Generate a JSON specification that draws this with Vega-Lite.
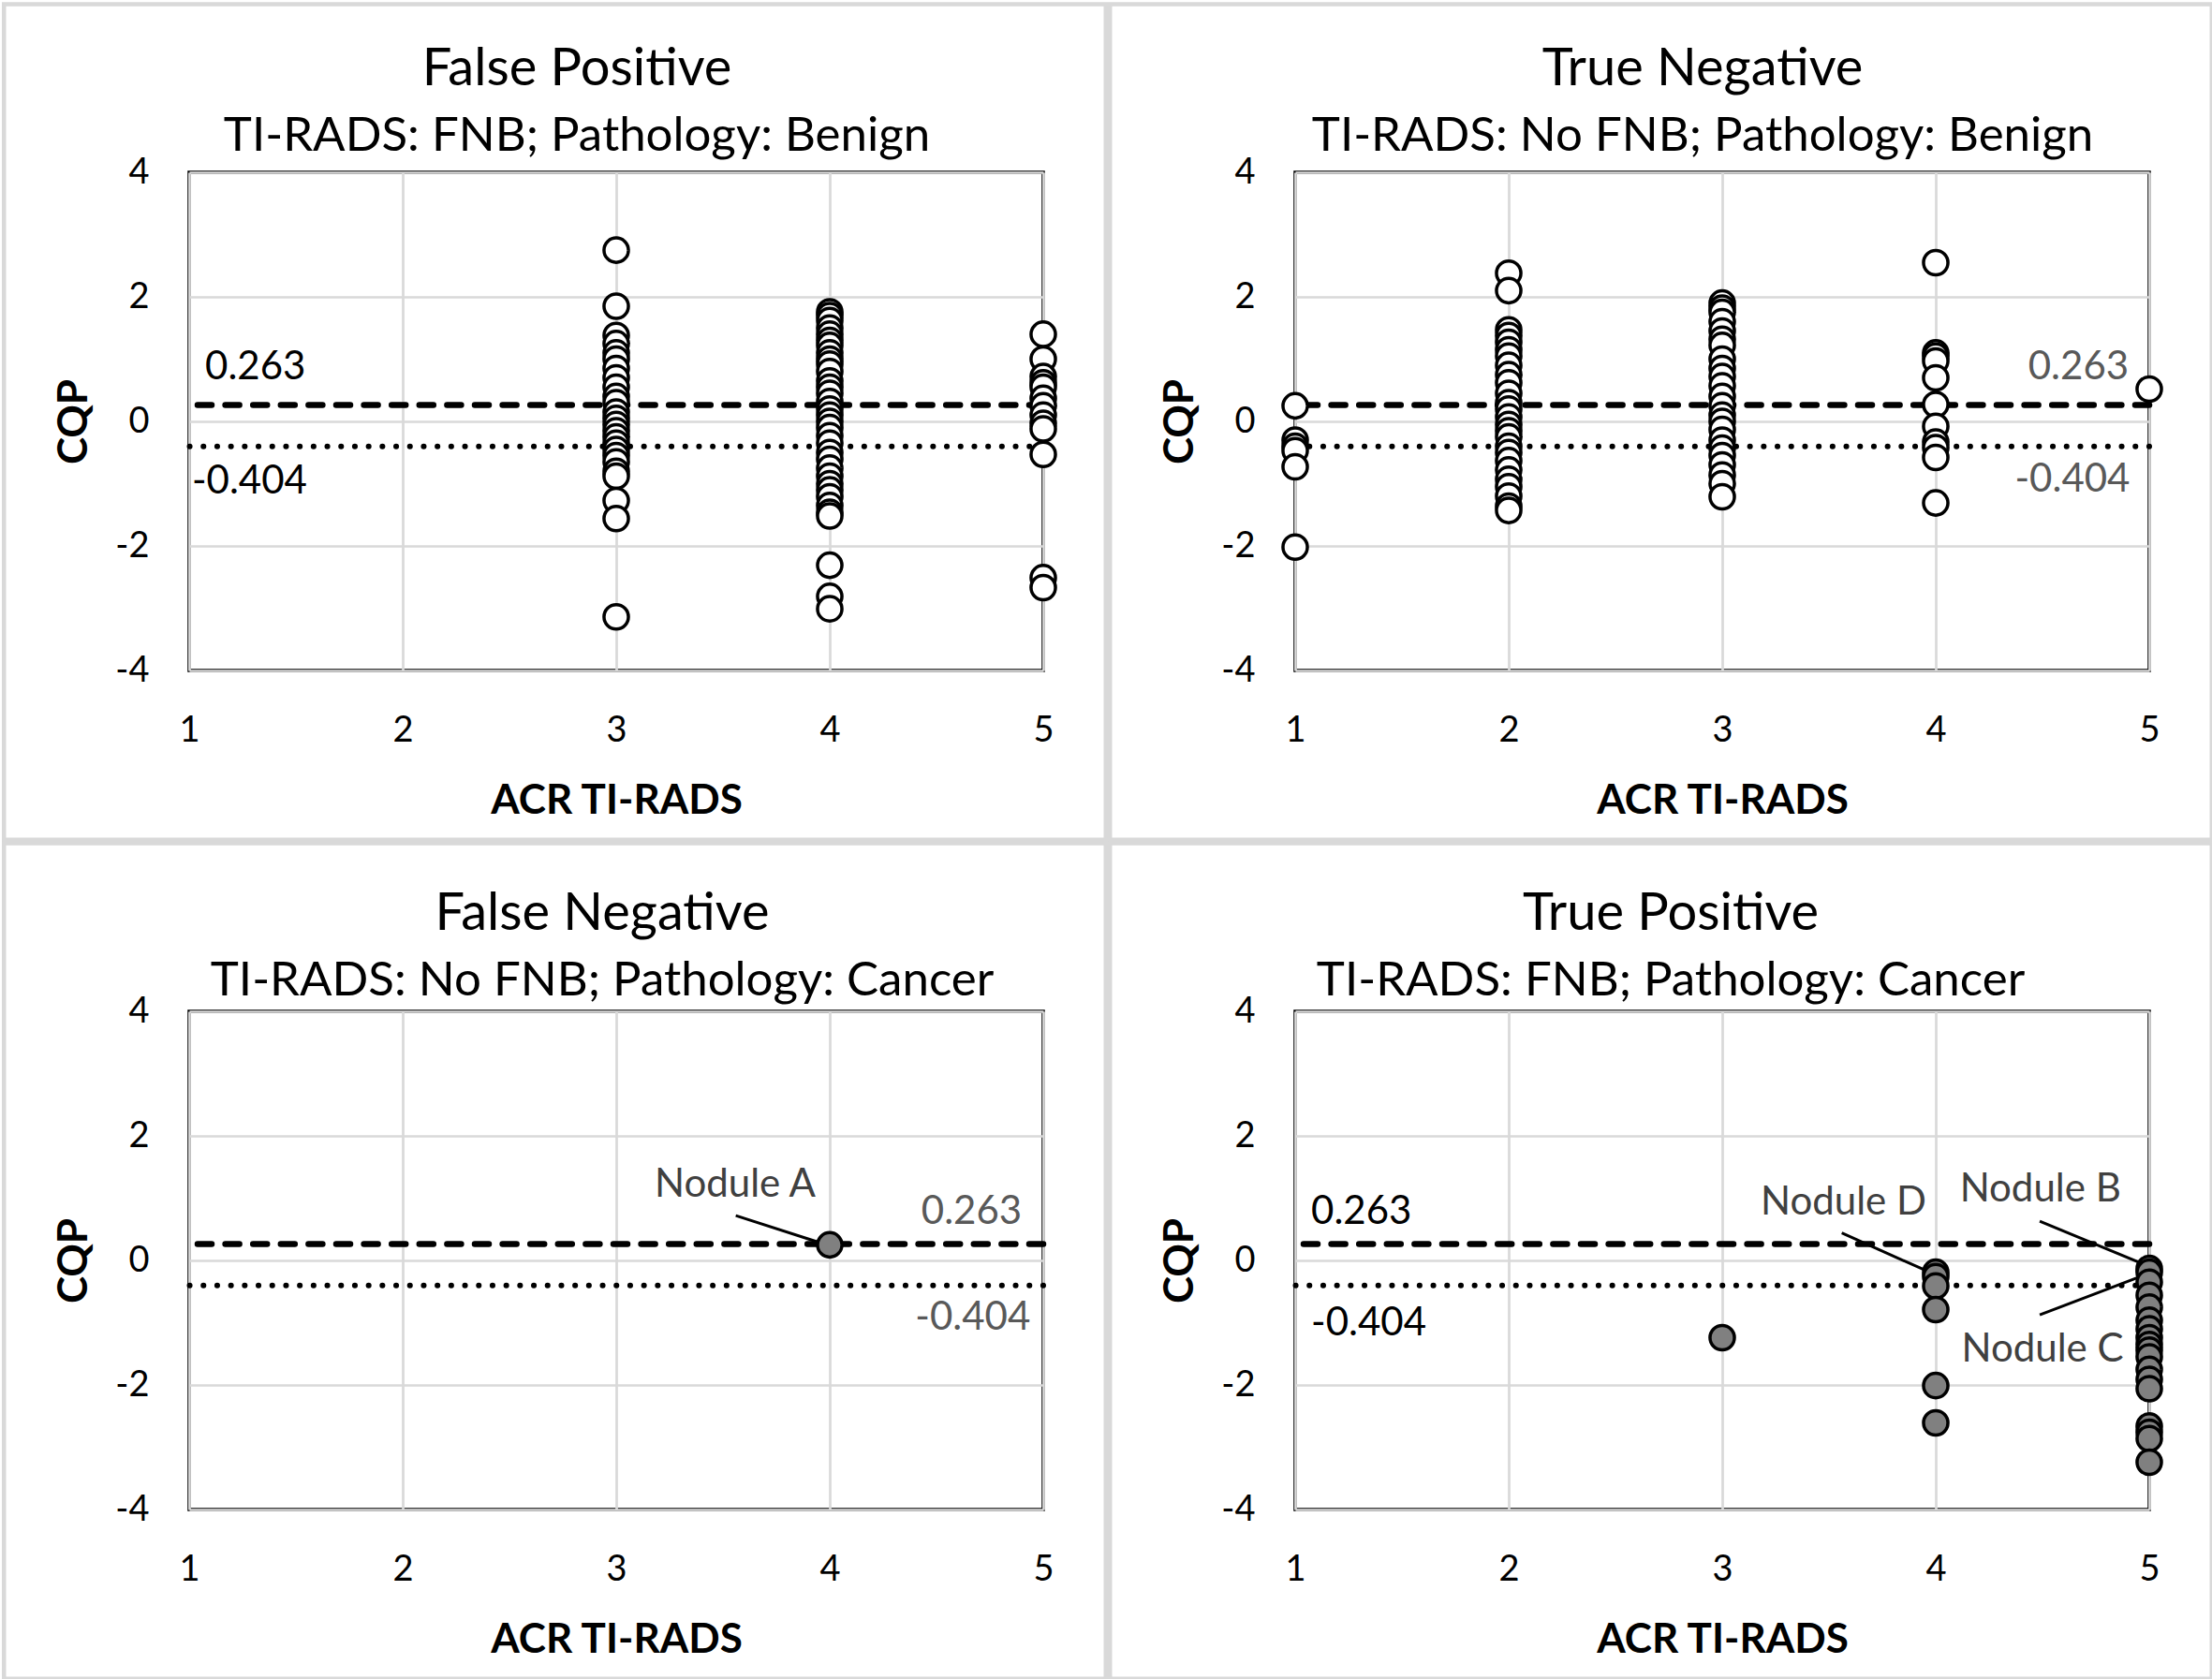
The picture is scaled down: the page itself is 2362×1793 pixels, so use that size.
{
  "$schema": "https://vega.github.io/schema/vega-lite/v6.json",
  "padding": 0,
  "background": "white",
  "datasets": {
    "points": [
      {"panel":"FP","tirads":3,"cqp":2.75},{"panel":"FP","tirads":3,"cqp":1.85},{"panel":"FP","tirads":3,"cqp":1.38},{"panel":"FP","tirads":3,"cqp":1.25},{"panel":"FP","tirads":3,"cqp":1.1},
      {"panel":"FP","tirads":3,"cqp":1.0},{"panel":"FP","tirads":3,"cqp":0.85},{"panel":"FP","tirads":3,"cqp":0.7},{"panel":"FP","tirads":3,"cqp":0.55},{"panel":"FP","tirads":3,"cqp":0.4},
      {"panel":"FP","tirads":3,"cqp":0.3},{"panel":"FP","tirads":3,"cqp":0.15},{"panel":"FP","tirads":3,"cqp":0.05},{"panel":"FP","tirads":3,"cqp":-0.05},{"panel":"FP","tirads":3,"cqp":-0.15},
      {"panel":"FP","tirads":3,"cqp":-0.25},{"panel":"FP","tirads":3,"cqp":-0.35},{"panel":"FP","tirads":3,"cqp":-0.45},{"panel":"FP","tirads":3,"cqp":-0.55},{"panel":"FP","tirads":3,"cqp":-0.65},
      {"panel":"FP","tirads":3,"cqp":-0.8},{"panel":"FP","tirads":3,"cqp":-0.88},{"panel":"FP","tirads":3,"cqp":-1.27},{"panel":"FP","tirads":3,"cqp":-1.56},{"panel":"FP","tirads":3,"cqp":-3.14},
      {"panel":"FP","tirads":4,"cqp":1.76},{"panel":"FP","tirads":4,"cqp":1.7},{"panel":"FP","tirads":4,"cqp":1.62},{"panel":"FP","tirads":4,"cqp":1.5},{"panel":"FP","tirads":4,"cqp":1.4},
      {"panel":"FP","tirads":4,"cqp":1.3},{"panel":"FP","tirads":4,"cqp":1.22},{"panel":"FP","tirads":4,"cqp":1.1},{"panel":"FP","tirads":4,"cqp":1.0},{"panel":"FP","tirads":4,"cqp":0.92},
      {"panel":"FP","tirads":4,"cqp":0.8},{"panel":"FP","tirads":4,"cqp":0.65},{"panel":"FP","tirads":4,"cqp":0.55},{"panel":"FP","tirads":4,"cqp":0.45},{"panel":"FP","tirads":4,"cqp":0.32},
      {"panel":"FP","tirads":4,"cqp":0.2},{"panel":"FP","tirads":4,"cqp":0.1},{"panel":"FP","tirads":4,"cqp":0.0},{"panel":"FP","tirads":4,"cqp":-0.1},{"panel":"FP","tirads":4,"cqp":-0.23},
      {"panel":"FP","tirads":4,"cqp":-0.35},{"panel":"FP","tirads":4,"cqp":-0.5},{"panel":"FP","tirads":4,"cqp":-0.61},{"panel":"FP","tirads":4,"cqp":-0.75},{"panel":"FP","tirads":4,"cqp":-0.88},
      {"panel":"FP","tirads":4,"cqp":-1.0},{"panel":"FP","tirads":4,"cqp":-1.1},{"panel":"FP","tirads":4,"cqp":-1.21},{"panel":"FP","tirads":4,"cqp":-1.35},{"panel":"FP","tirads":4,"cqp":-1.46},
      {"panel":"FP","tirads":4,"cqp":-1.52},{"panel":"FP","tirads":4,"cqp":-2.31},{"panel":"FP","tirads":4,"cqp":-2.81},{"panel":"FP","tirads":4,"cqp":-3.01},
      {"panel":"FP","tirads":5,"cqp":1.4},{"panel":"FP","tirads":5,"cqp":1.0},{"panel":"FP","tirads":5,"cqp":0.72},{"panel":"FP","tirads":5,"cqp":0.62},{"panel":"FP","tirads":5,"cqp":0.55},
      {"panel":"FP","tirads":5,"cqp":0.37},{"panel":"FP","tirads":5,"cqp":0.25},{"panel":"FP","tirads":5,"cqp":0.1},{"panel":"FP","tirads":5,"cqp":-0.03},{"panel":"FP","tirads":5,"cqp":-0.12},
      {"panel":"FP","tirads":5,"cqp":-0.53},{"panel":"FP","tirads":5,"cqp":-2.51},{"panel":"FP","tirads":5,"cqp":-2.67},
      {"panel":"TN","tirads":1,"cqp":0.25},{"panel":"TN","tirads":1,"cqp":-0.3},{"panel":"TN","tirads":1,"cqp":-0.4},{"panel":"TN","tirads":1,"cqp":-0.47},{"panel":"TN","tirads":1,"cqp":-0.73},{"panel":"TN","tirads":1,"cqp":-2.02},
      {"panel":"TN","tirads":2,"cqp":2.38},{"panel":"TN","tirads":2,"cqp":2.1},{"panel":"TN","tirads":2,"cqp":1.47},{"panel":"TN","tirads":2,"cqp":1.38},{"panel":"TN","tirads":2,"cqp":1.27},
      {"panel":"TN","tirads":2,"cqp":1.15},{"panel":"TN","tirads":2,"cqp":1.05},{"panel":"TN","tirads":2,"cqp":0.9},{"panel":"TN","tirads":2,"cqp":0.75},{"panel":"TN","tirads":2,"cqp":0.62},
      {"panel":"TN","tirads":2,"cqp":0.45},{"panel":"TN","tirads":2,"cqp":0.3},{"panel":"TN","tirads":2,"cqp":0.2},{"panel":"TN","tirads":2,"cqp":0.07},{"panel":"TN","tirads":2,"cqp":-0.05},
      {"panel":"TN","tirads":2,"cqp":-0.15},{"panel":"TN","tirads":2,"cqp":-0.25},{"panel":"TN","tirads":2,"cqp":-0.4},{"panel":"TN","tirads":2,"cqp":-0.5},{"panel":"TN","tirads":2,"cqp":-0.63},
      {"panel":"TN","tirads":2,"cqp":-0.78},{"panel":"TN","tirads":2,"cqp":-0.93},{"panel":"TN","tirads":2,"cqp":-1.05},{"panel":"TN","tirads":2,"cqp":-1.2},{"panel":"TN","tirads":2,"cqp":-1.36},{"panel":"TN","tirads":2,"cqp":-1.43},
      {"panel":"TN","tirads":3,"cqp":1.9},{"panel":"TN","tirads":3,"cqp":1.82},{"panel":"TN","tirads":3,"cqp":1.75},{"panel":"TN","tirads":3,"cqp":1.6},{"panel":"TN","tirads":3,"cqp":1.45},
      {"panel":"TN","tirads":3,"cqp":1.32},{"panel":"TN","tirads":3,"cqp":1.22},{"panel":"TN","tirads":3,"cqp":1.0},{"panel":"TN","tirads":3,"cqp":0.85},{"panel":"TN","tirads":3,"cqp":0.72},
      {"panel":"TN","tirads":3,"cqp":0.57},{"panel":"TN","tirads":3,"cqp":0.4},{"panel":"TN","tirads":3,"cqp":0.25},{"panel":"TN","tirads":3,"cqp":0.1},{"panel":"TN","tirads":3,"cqp":0.0},
      {"panel":"TN","tirads":3,"cqp":-0.13},{"panel":"TN","tirads":3,"cqp":-0.3},{"panel":"TN","tirads":3,"cqp":-0.43},{"panel":"TN","tirads":3,"cqp":-0.55},{"panel":"TN","tirads":3,"cqp":-0.7},
      {"panel":"TN","tirads":3,"cqp":-0.86},{"panel":"TN","tirads":3,"cqp":-1.0},{"panel":"TN","tirads":3,"cqp":-1.21},
      {"panel":"TN","tirads":4,"cqp":2.55},{"panel":"TN","tirads":4,"cqp":1.1},{"panel":"TN","tirads":4,"cqp":1.05},{"panel":"TN","tirads":4,"cqp":0.97},{"panel":"TN","tirads":4,"cqp":0.7},
      {"panel":"TN","tirads":4,"cqp":0.27},{"panel":"TN","tirads":4,"cqp":-0.08},{"panel":"TN","tirads":4,"cqp":-0.33},{"panel":"TN","tirads":4,"cqp":-0.42},{"panel":"TN","tirads":4,"cqp":-0.58},{"panel":"TN","tirads":4,"cqp":-1.31},
      {"panel":"TN","tirads":5,"cqp":0.52},
      {"panel":"FN","tirads":4,"cqp":0.25},
      {"panel":"TP","tirads":3,"cqp":-1.24},
      {"panel":"TP","tirads":4,"cqp":-0.19},{"panel":"TP","tirads":4,"cqp":-0.26},{"panel":"TP","tirads":4,"cqp":-0.41},{"panel":"TP","tirads":4,"cqp":-0.79},{"panel":"TP","tirads":4,"cqp":-2.01},{"panel":"TP","tirads":4,"cqp":-2.61},
      {"panel":"TP","tirads":5,"cqp":-0.13},{"panel":"TP","tirads":5,"cqp":-0.19},{"panel":"TP","tirads":5,"cqp":-0.35},{"panel":"TP","tirads":5,"cqp":-0.56},{"panel":"TP","tirads":5,"cqp":-0.75},
      {"panel":"TP","tirads":5,"cqp":-0.96},{"panel":"TP","tirads":5,"cqp":-1.1},{"panel":"TP","tirads":5,"cqp":-1.24},{"panel":"TP","tirads":5,"cqp":-1.35},{"panel":"TP","tirads":5,"cqp":-1.44},
      {"panel":"TP","tirads":5,"cqp":-1.55},{"panel":"TP","tirads":5,"cqp":-1.75},{"panel":"TP","tirads":5,"cqp":-1.91},{"panel":"TP","tirads":5,"cqp":-2.06},{"panel":"TP","tirads":5,"cqp":-2.66},
      {"panel":"TP","tirads":5,"cqp":-2.76},{"panel":"TP","tirads":5,"cqp":-2.86},{"panel":"TP","tirads":5,"cqp":-3.24}
    ],
    "nodules": [
      {"panel":"FN","x":3.557,"y":1.03,"label":"Nodule A","x1":3.56,"y1":0.72,"x2":3.95,"y2":0.29},
      {"panel":"TP","x":3.568,"y":0.744,"label":"Nodule D","x1":3.56,"y1":0.44,"x2":3.965,"y2":-0.18},
      {"panel":"TP","x":4.49,"y":0.944,"label":"Nodule B","x1":4.487,"y1":0.63,"x2":4.972,"y2":-0.06},
      {"panel":"TP","x":4.5,"y":-1.627,"label":"Nodule C","x1":4.487,"y1":-0.875,"x2":4.957,"y2":-0.26}
    ]
  },
  "columns": 2,
  "spacing": {"row": 364, "column": 269},
  "bounds": "flush",
  "concat": [
    {
      "width": 912,
      "height": 532,
      "title": {"text": "False Positive", "subtitle": "TI-RADS: FNB; Pathology: Benign", "dx": -42, "offset": -170},
      "layer": [
        {"data": {"values": [{}]}, "mark": {"type": "rect", "filled": false, "stroke": "#d9d9d9", "strokeWidth": 4.5},
         "encoding": {"x": {"datum": 0.1327}, "x2": {"datum": 5.2928}, "y": {"datum": 6.7}, "y2": {"datum": -6.718}}},
        {"data": {"values": [{}]}, "mark": {"type": "rule", "color": "black", "strokeWidth": 6.5, "strokeDash": [15, 14.6], "strokeCap": "round"},
         "encoding": {"y": {"datum": 0.263}}},
        {"data": {"values": [{}]}, "mark": {"type": "rule", "color": "black", "strokeWidth": 6, "strokeDash": [0.1, 14.6], "strokeCap": "round"},
         "encoding": {"y": {"datum": -0.404}}},
        {"data": {"values": [{"x": 1.075, "y": 0.677, "label": "0.263"}, {"x": 1.013, "y": -1.16, "label": "-0.404"}]},
         "mark": {"type": "text", "align": "left", "baseline": "alphabetic", "fontSize": 42, "color": "#000000"},
         "encoding": {"x": {"field": "x", "type": "quantitative"}, "y": {"field": "y", "type": "quantitative"}, "text": {"field": "label"}}},
        {"data": {"name": "points"}, "transform": [{"filter": "datum.panel === 'FP'"}],
         "mark": {"type": "circle", "fill": "white", "stroke": "black", "strokeWidth": 3.5, "size": 680, "opacity": 1},
         "encoding": {
           "x": {"field": "tirads", "type": "quantitative", "scale": {"domain": [1, 5], "nice": false, "zero": false},
                 "axis": {"values": [1, 2, 3, 4, 5], "title": "ACR TI-RADS", "labelPadding": 75, "labelBaseline": "alphabetic", "labelFlush": false, "labelExpr": "'' + datum.value", "titleX": 456, "titleY": 152, "titleBaseline": "alphabetic"}},
           "y": {"field": "cqp", "type": "quantitative", "scale": {"domain": [-4, 4], "nice": false, "zero": false},
                 "axis": {"values": [-4, -2, 0, 2, 4], "title": "CQP", "labelPadding": 43, "labelFlush": false, "labelExpr": "'' + datum.value", "titleX": -123, "titleY": 266, "titleBaseline": "middle"}}
         }}
      ]
    },
    {
      "width": 912,
      "height": 532,
      "title": {"text": "True Negative", "subtitle": "TI-RADS: No FNB; Pathology: Benign", "dx": -21, "offset": -170},
      "layer": [
        {"data": {"values": [{}]}, "mark": {"type": "rect", "filled": false, "stroke": "#d9d9d9", "strokeWidth": 4.5},
         "encoding": {"x": {"datum": 0.1327}, "x2": {"datum": 5.2928}, "y": {"datum": 6.7}, "y2": {"datum": -6.718}}},
        {"data": {"values": [{}]}, "mark": {"type": "rule", "color": "black", "strokeWidth": 6.5, "strokeDash": [15, 14.6], "strokeCap": "round"},
         "encoding": {"y": {"datum": 0.263}}},
        {"data": {"values": [{}]}, "mark": {"type": "rule", "color": "black", "strokeWidth": 6, "strokeDash": [0.1, 14.6], "strokeCap": "round"},
         "encoding": {"y": {"datum": -0.404}}},
        {"data": {"values": [{"x": 4.904, "y": 0.677, "label": "0.263"}, {"x": 4.91, "y": -1.13, "label": "-0.404"}]},
         "mark": {"type": "text", "align": "right", "baseline": "alphabetic", "fontSize": 42, "color": "#595959"},
         "encoding": {"x": {"field": "x", "type": "quantitative"}, "y": {"field": "y", "type": "quantitative"}, "text": {"field": "label"}}},
        {"data": {"name": "points"}, "transform": [{"filter": "datum.panel === 'TN'"}],
         "mark": {"type": "circle", "fill": "white", "stroke": "black", "strokeWidth": 3.5, "size": 680, "opacity": 1},
         "encoding": {
           "x": {"field": "tirads", "type": "quantitative", "scale": {"domain": [1, 5], "nice": false, "zero": false},
                 "axis": {"values": [1, 2, 3, 4, 5], "title": "ACR TI-RADS", "labelPadding": 75, "labelBaseline": "alphabetic", "labelFlush": false, "labelExpr": "'' + datum.value", "titleX": 456, "titleY": 152, "titleBaseline": "alphabetic"}},
           "y": {"field": "cqp", "type": "quantitative", "scale": {"domain": [-4, 4], "nice": false, "zero": false},
                 "axis": {"values": [-4, -2, 0, 2, 4], "title": "CQP", "labelPadding": 43, "labelFlush": false, "labelExpr": "'' + datum.value", "titleX": -123, "titleY": 266, "titleBaseline": "middle"}}
         }}
      ]
    },
    {
      "width": 912,
      "height": 532,
      "title": {"text": "False Negative", "subtitle": "TI-RADS: No FNB; Pathology: Cancer", "dx": -15, "offset": -176},
      "layer": [
        {"data": {"values": [{}]}, "mark": {"type": "rect", "filled": false, "stroke": "#d9d9d9", "strokeWidth": 4.5},
         "encoding": {"x": {"datum": 0.1327}, "x2": {"datum": 5.2928}, "y": {"datum": 6.7}, "y2": {"datum": -6.718}}},
        {"data": {"values": [{}]}, "mark": {"type": "rule", "color": "black", "strokeWidth": 6.5, "strokeDash": [15, 14.6], "strokeCap": "round"},
         "encoding": {"y": {"datum": 0.263}}},
        {"data": {"values": [{}]}, "mark": {"type": "rule", "color": "black", "strokeWidth": 6, "strokeDash": [0.1, 14.6], "strokeCap": "round"},
         "encoding": {"y": {"datum": -0.404}}},
        {"data": {"values": [{"x": 4.9, "y": 0.59, "label": "0.263"}, {"x": 4.94, "y": -1.12, "label": "-0.404"}]},
         "mark": {"type": "text", "align": "right", "baseline": "alphabetic", "fontSize": 42, "color": "#595959"},
         "encoding": {"x": {"field": "x", "type": "quantitative"}, "y": {"field": "y", "type": "quantitative"}, "text": {"field": "label"}}},
        {"data": {"name": "nodules"}, "transform": [{"filter": "datum.panel === 'FN'"}],
         "mark": {"type": "rule", "color": "black", "strokeWidth": 3},
         "encoding": {"x": {"field": "x1", "type": "quantitative"}, "y": {"field": "y1", "type": "quantitative"}, "x2": {"field": "x2"}, "y2": {"field": "y2"}}},
        {"data": {"name": "nodules"}, "transform": [{"filter": "datum.panel === 'FN'"}],
         "mark": {"type": "text", "align": "center", "baseline": "alphabetic", "fontSize": 42, "color": "#404040"},
         "encoding": {"x": {"field": "x", "type": "quantitative"}, "y": {"field": "y", "type": "quantitative"}, "text": {"field": "label"}}},
        {"data": {"name": "points"}, "transform": [{"filter": "datum.panel === 'FN'"}],
         "mark": {"type": "circle", "fill": "#808080", "stroke": "black", "strokeWidth": 3.5, "size": 680, "opacity": 1},
         "encoding": {
           "x": {"field": "tirads", "type": "quantitative", "scale": {"domain": [1, 5], "nice": false, "zero": false},
                 "axis": {"values": [1, 2, 3, 4, 5], "title": "ACR TI-RADS", "labelPadding": 75, "labelBaseline": "alphabetic", "labelFlush": false, "labelExpr": "'' + datum.value", "titleX": 456, "titleY": 152, "titleBaseline": "alphabetic"}},
           "y": {"field": "cqp", "type": "quantitative", "scale": {"domain": [-4, 4], "nice": false, "zero": false},
                 "axis": {"values": [-4, -2, 0, 2, 4], "title": "CQP", "labelPadding": 43, "labelFlush": false, "labelExpr": "'' + datum.value", "titleX": -123, "titleY": 266, "titleBaseline": "middle"}}
         }}
      ]
    },
    {
      "width": 912,
      "height": 532,
      "title": {"text": "True Positive", "subtitle": "TI-RADS: FNB; Pathology: Cancer", "dx": -55, "offset": -176},
      "layer": [
        {"data": {"values": [{}]}, "mark": {"type": "rect", "filled": false, "stroke": "#d9d9d9", "strokeWidth": 4.5},
         "encoding": {"x": {"datum": 0.1327}, "x2": {"datum": 5.2928}, "y": {"datum": 6.7}, "y2": {"datum": -6.718}}},
        {"data": {"values": [{}]}, "mark": {"type": "rule", "color": "black", "strokeWidth": 6.5, "strokeDash": [15, 14.6], "strokeCap": "round"},
         "encoding": {"y": {"datum": 0.263}}},
        {"data": {"values": [{}]}, "mark": {"type": "rule", "color": "black", "strokeWidth": 6, "strokeDash": [0.1, 14.6], "strokeCap": "round"},
         "encoding": {"y": {"datum": -0.404}}},
        {"data": {"values": [{"x": 1.075, "y": 0.59, "label": "0.263"}, {"x": 1.075, "y": -1.21, "label": "-0.404"}]},
         "mark": {"type": "text", "align": "left", "baseline": "alphabetic", "fontSize": 42, "color": "#000000"},
         "encoding": {"x": {"field": "x", "type": "quantitative"}, "y": {"field": "y", "type": "quantitative"}, "text": {"field": "label"}}},
        {"data": {"name": "nodules"}, "transform": [{"filter": "datum.panel === 'TP'"}],
         "mark": {"type": "rule", "color": "black", "strokeWidth": 3},
         "encoding": {"x": {"field": "x1", "type": "quantitative"}, "y": {"field": "y1", "type": "quantitative"}, "x2": {"field": "x2"}, "y2": {"field": "y2"}}},
        {"data": {"name": "nodules"}, "transform": [{"filter": "datum.panel === 'TP'"}],
         "mark": {"type": "text", "align": "center", "baseline": "alphabetic", "fontSize": 42, "color": "#404040"},
         "encoding": {"x": {"field": "x", "type": "quantitative"}, "y": {"field": "y", "type": "quantitative"}, "text": {"field": "label"}}},
        {"data": {"name": "points"}, "transform": [{"filter": "datum.panel === 'TP'"}],
         "mark": {"type": "circle", "fill": "#808080", "stroke": "black", "strokeWidth": 3.5, "size": 680, "opacity": 1},
         "encoding": {
           "x": {"field": "tirads", "type": "quantitative", "scale": {"domain": [1, 5], "nice": false, "zero": false},
                 "axis": {"values": [1, 2, 3, 4, 5], "title": "ACR TI-RADS", "labelPadding": 75, "labelBaseline": "alphabetic", "labelFlush": false, "labelExpr": "'' + datum.value", "titleX": 456, "titleY": 152, "titleBaseline": "alphabetic"}},
           "y": {"field": "cqp", "type": "quantitative", "scale": {"domain": [-4, 4], "nice": false, "zero": false},
                 "axis": {"values": [-4, -2, 0, 2, 4], "title": "CQP", "labelPadding": 43, "labelFlush": false, "labelExpr": "'' + datum.value", "titleX": -123, "titleY": 266, "titleBaseline": "middle"}}
         }}
      ]
    }
  ],
  "config": {
    "font": "Lato",
    "view": {"stroke": "black", "strokeWidth": 3.5, "fill": null},
    "title": {"font": "Lato", "fontSize": 56, "fontWeight": "normal", "color": "#000000", "subtitleFont": "Lato", "subtitleFontSize": 51, "subtitleColor": "#000000", "subtitlePadding": 18, "anchor": "middle", "frame": "group"},
    "axis": {
      "labelFont": "Lato", "labelFontSize": 38, "labelColor": "#000000",
      "titleFont": "Lato", "titleFontSize": 44, "titleFontWeight": "bold", "titleColor": "#000000",
      "domain": false, "ticks": false, "tickSize": 0,
      "grid": true, "gridColor": "#d9d9d9", "gridWidth": 2.7,
      "labelOverlap": false
    },
    "text": {"font": "Lato"}
  }
}
